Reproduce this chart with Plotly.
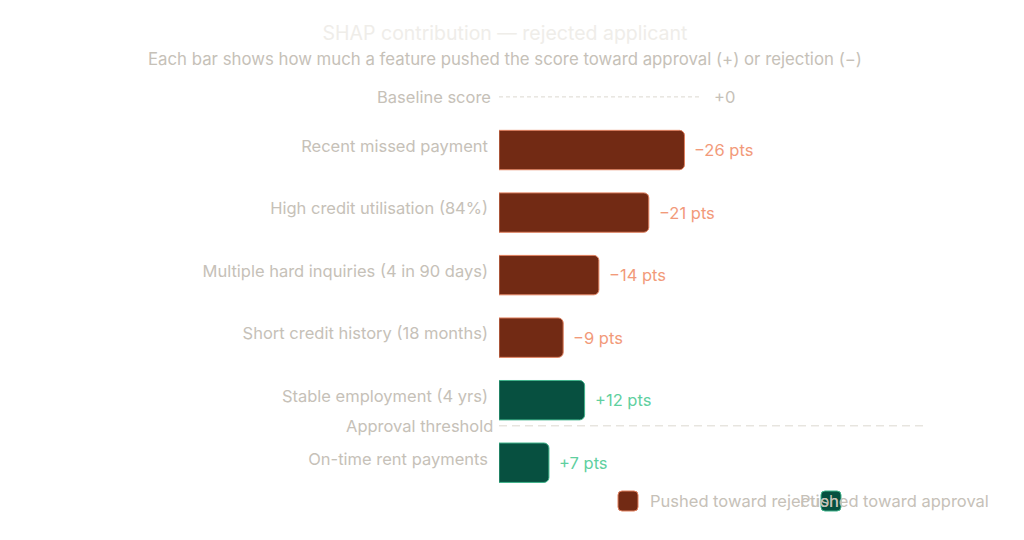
import plotly.graph_objects as go

# feature contributions (points), top to bottom
features = [
    "Recent missed payment",
    "High credit utilisation (84%)",
    "Multiple hard inquiries (4 in 90 days)",
    "Short credit history (18 months)",
    "Stable employment (4 yrs)",
    "On-time rent payments",
]
contrib = [-26, -21, -14, -9, 12, 7]

baseline_value = 0
threshold_after = "Stable employment (4 yrs)"
legend_names = ["Pushed toward rejection", "Pushed toward approval"]

RED_FILL = "#722a14"
RED_LINE = "#e0805f"
RED_TEXT = "#f29a7a"
GREEN_FILL = "#075040"
GREEN_LINE = "#3fb38a"
GREEN_TEXT = "#5fd0a0"
MUTED = "#c6c1b8"
FONT = "Inter, Roboto, sans-serif"
FS = 16.5

# plot area in figure pixels (used to place the legend / subtitle)
L, R, T, B = 491, 105, 67, 54
PW = 1024 - L - R
PH = 540 - T - B


def px_x(px):
    return (px - L) / PW


def px_y(py):
    return (540 - B - py) / PH


fig = go.Figure()

# bars are drawn by magnitude; colour tells the direction
neg = [(f, v) for f, v in zip(features, contrib) if v < 0]
pos = [(f, v) for f, v in zip(features, contrib) if v >= 0]

for rows, fill, line, name in [
    (neg, RED_FILL, RED_LINE, legend_names[0]),
    (pos, GREEN_FILL, GREEN_LINE, legend_names[1]),
]:
    fig.add_trace(
        go.Bar(
            y=[f for f, _ in rows],
            x=[abs(v) for _, v in rows],
            orientation="h",
            width=0.63,
            name=name,
            marker=dict(color=fill, line=dict(color=line, width=1), cornerradius=5),
            showlegend=False,
            hoverinfo="skip",
        )
    )

# value labels
for f, v in zip(features, contrib):
    sign = "+" if v > 0 else "\u2212"
    fig.add_annotation(
        x=abs(v),
        y=f,
        text=f"{sign}{abs(v)} pts",
        showarrow=False,
        xanchor="left",
        xshift=8,
        font=dict(family=FONT, size=FS, color=RED_TEXT if v < 0 else GREEN_TEXT),
    )

max_abs = max(abs(v) for v in contrib)
base_y = -0.85
thr_y = features.index(threshold_after) + 0.41

# baseline row
fig.add_shape(
    type="line", x0=0, x1=max_abs + 2.4, y0=base_y, y1=base_y,
    line=dict(color="#dcd8d0", width=1, dash="4px,3px"),
)
fig.add_annotation(
    x=0, y=base_y, text="Baseline score", showarrow=False,
    xanchor="right", xshift=-6, font=dict(family=FONT, size=FS, color=MUTED),
)
fig.add_annotation(
    x=max_abs + 2.4, y=base_y, text=f"+{baseline_value}", showarrow=False,
    xanchor="left", xshift=10, font=dict(family=FONT, size=FS, color=MUTED),
)

# approval threshold row
fig.add_shape(
    type="line", x0=0, x1=60, y0=thr_y, y1=thr_y,
    line=dict(color="#dcd8d0", width=1, dash="8px,5px"),
)
fig.add_annotation(
    x=0, y=thr_y, text="Approval threshold", showarrow=False,
    xanchor="right", xshift=-4, font=dict(family=FONT, size=FS, color=MUTED),
)

# legend (drawn by hand so the two entries sit as in the source)
r, h = 4, 10
swatch = (
    f"M{-h + r},{-h} L{h - r},{-h} Q{h},{-h} {h},{-h + r} L{h},{h - r} "
    f"Q{h},{h} {h - r},{h} L{-h + r},{h} Q{-h},{h} {-h},{h - r} "
    f"L{-h},{-h + r} Q{-h},{-h} {-h + r},{-h} Z"
)
leg_y = px_y(493)
for name, fill, line, sw_px, txt_px in [
    (legend_names[0], RED_FILL, RED_LINE, 620, 640),
    (legend_names[1], GREEN_FILL, GREEN_LINE, 823, 790),
]:
    fig.add_shape(
        type="path", path=swatch,
        xref="paper", yref="paper",
        xsizemode="pixel", ysizemode="pixel",
        xanchor=px_x(sw_px), yanchor=leg_y,
        fillcolor=fill, line=dict(color=line, width=1),
    )
    fig.add_annotation(
        xref="paper", yref="paper", x=px_x(txt_px), y=leg_y,
        text=name, showarrow=False, xanchor="left", yanchor="middle",
        font=dict(family=FONT, size=FS, color=MUTED),
    )

fig.add_annotation(
    text="Each bar shows how much a feature pushed the score toward approval (+) or rejection (\u2212)",
    xref="paper", yref="paper", x=px_x(497), y=px_y(51),
    xanchor="center", yanchor="middle", showarrow=False,
    font=dict(family=FONT, size=16.8, color=MUTED),
)

fig.update_layout(
    width=1024,
    height=540,
    paper_bgcolor="white",
    plot_bgcolor="white",
    margin=dict(l=L, r=R, t=T, b=B),
    barmode="overlay",
    showlegend=False,
    font=dict(family=FONT, size=FS, color=MUTED),
    title=dict(
        text="SHAP contribution \u2014 rejected applicant",
        x=497 / 1024,
        xanchor="center",
        y=1 - 25 / 540,
        yanchor="middle",
        font=dict(family=FONT, size=19.5, color="#efede9"),
    ),
    xaxis=dict(range=[0, 60], visible=False, automargin=False),
    yaxis=dict(
        categoryorder="array",
        categoryarray=features,
        range=[5.5, -1.2],
        showgrid=False,
        zeroline=False,
        showline=False,
        ticks="",
        automargin=False,
        ticklabelstandoff=10,
        ticklabelshift=4,
        tickfont=dict(family=FONT, size=FS, color=MUTED),
    ),
)

fig.write_html("out.html")
